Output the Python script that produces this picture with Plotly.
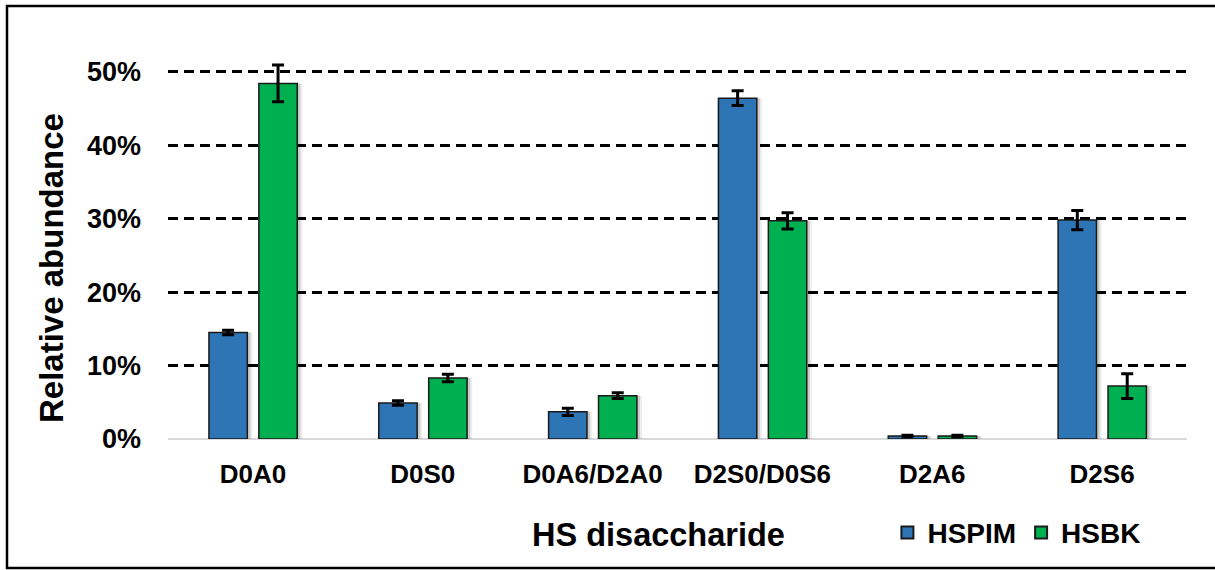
import plotly.graph_objects as go

# HS disaccharide composition (fraction of total)
categories = ["D0A0", "D0S0", "D0A6/D2A0", "D2S0/D0S6", "D2A6", "D2S6"]
hspim = [0.145, 0.049, 0.037, 0.464, 0.004, 0.298]
hspim_err = [0.003, 0.003, 0.005, 0.010, 0.001, 0.013]
hsbk = [0.484, 0.083, 0.059, 0.297, 0.004, 0.072]
hsbk_err = [0.025, 0.005, 0.004, 0.011, 0.001, 0.017]
series_names = ["HSPIM", "HSBK"]
y_ticks = [0, 0.1, 0.2, 0.3, 0.4, 0.5]
y_tick_text = ["0%", "10%", "20%", "30%", "40%", "50%"]

FONT = "Liberation Sans, Arial, sans-serif"
BLUE = "#2E75B6"
GREEN = "#00B050"

W, H = 1215, 570
L, R, T, B = 168, 28, 35, 131
BAR_W = 0.226
OFFSETS = [-0.259, 0.035]

fig = go.Figure()

# soft drop shadow behind each bar
for vals, off in zip([hspim, hsbk], OFFSETS):
    for dx, alpha in [(0.030, 0.07), (0.018, 0.14)]:
        fig.add_trace(go.Bar(
            x=categories, y=vals, width=BAR_W, offset=off + dx,
            marker=dict(color=f"rgba(0,0,0,{alpha})", line=dict(width=0)),
            showlegend=False, hoverinfo="skip",
        ))

for name, vals, errs, color, off in zip(series_names, [hspim, hsbk],
                                        [hspim_err, hsbk_err], [BLUE, GREEN], OFFSETS):
    fig.add_trace(go.Bar(
        name=name, x=categories, y=vals, width=BAR_W, offset=off,
        marker=dict(color=color, line=dict(color="#1a1a1a", width=1.5)),
        error_y=dict(type="data", array=errs, visible=True,
                     color="black", thickness=3, width=6),
    ))

fig.update_layout(
    width=W, height=H,
    margin=dict(l=L, r=R, t=T, b=B),
    barmode="overlay",
    paper_bgcolor="white", plot_bgcolor="white",
    font=dict(family=FONT, color="black"),
    showlegend=True,
    legend=dict(
        orientation="h", x=0.706, y=-0.232, xanchor="left", yanchor="middle",
        font=dict(size=28, family=FONT, color="black", weight="bold"),
        bgcolor="rgba(0,0,0,0)", itemsizing="constant",
        traceorder="normal",
    ),
)

fig.update_xaxes(
    showgrid=False, showline=False, ticks="",
    tickfont=dict(size=26, family=FONT, weight="bold"),
    ticklabelstandoff=17,
)
fig.update_yaxes(
    range=[0, 0.55], tickvals=y_ticks, ticktext=y_tick_text,
    showgrid=True, gridcolor="black", gridwidth=2.5, griddash="10px,6px",
    zeroline=True, zerolinecolor="#D9D9D9", zerolinewidth=2,
    showline=False, ticks="",
    tickfont=dict(size=27, family=FONT, weight="bold"),
    ticklabelstandoff=26,
)

# axis titles
fig.add_annotation(
    text="HS disaccharide", xref="paper", yref="paper",
    x=(658 - L) / (W - L - R), y=(439 - 535) / (H - T - B),
    xanchor="center", yanchor="middle", showarrow=False,
    font=dict(size=32.5, family=FONT, color="black", weight="bold"),
)
fig.add_annotation(
    text="Relative abundance", xref="paper", yref="paper",
    x=(51 - L) / (W - L - R), y=(439 - 268) / (H - T - B),
    xanchor="center", yanchor="middle", showarrow=False, textangle=-90,
    font=dict(size=33, family=FONT, color="black", weight="bold"),
)

# chart frame
fig.add_shape(
    type="rect", xref="paper", yref="paper",
    x0=(7 - L) / (W - L - R), x1=(1240 - L) / (W - L - R),
    y0=(439 - 568) / (H - T - B), y1=(439 - 6) / (H - T - B),
    line=dict(color="black", width=2.5), fillcolor="rgba(0,0,0,0)", layer="above",
)

fig.write_html("out.html")
